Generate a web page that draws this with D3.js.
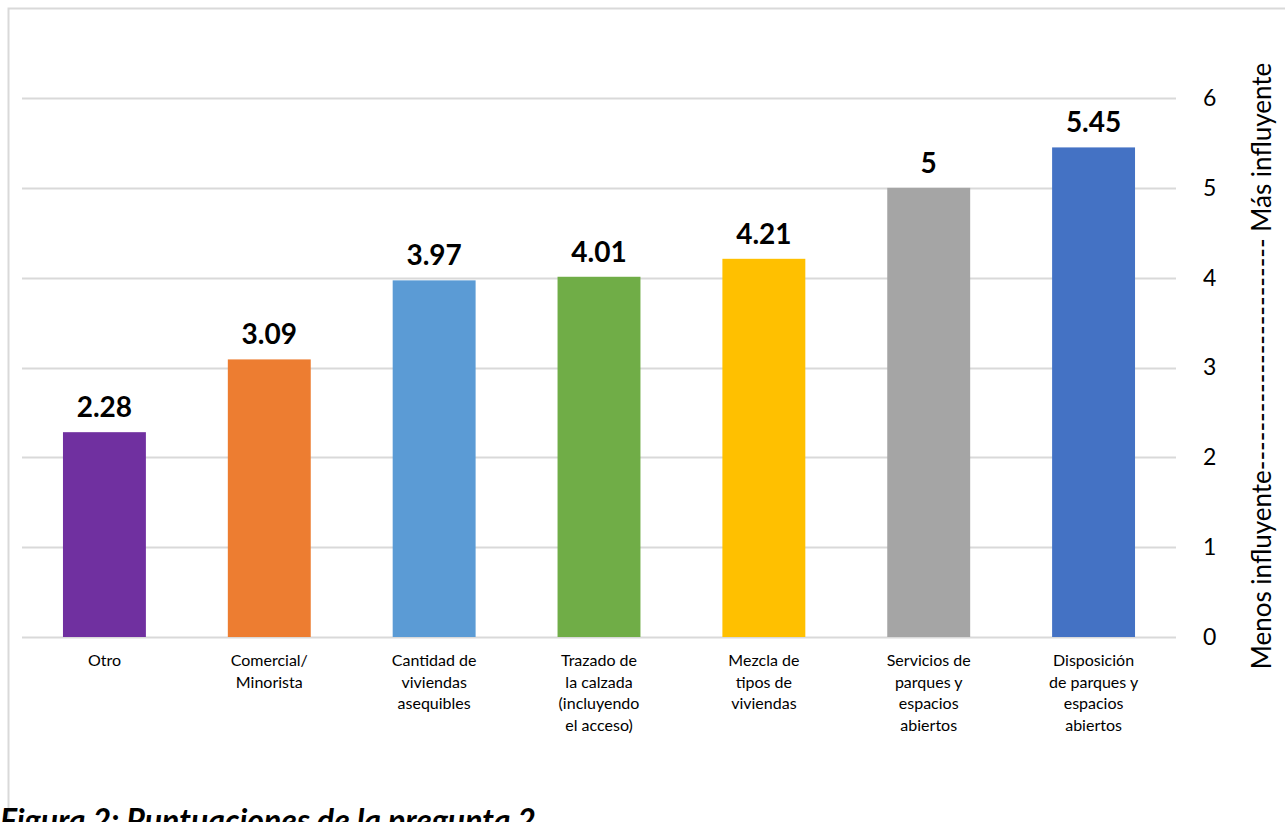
<!DOCTYPE html>
<html>
<head>
<meta charset="utf-8">
<script src="https://cdn.jsdelivr.net/npm/d3@7/dist/d3.min.js"></script>
<style>
  html, body { margin: 0; padding: 0; background: #fff; }
  svg { display: block; }
  text { font-family: Lato, "Open Sans", sans-serif; }
</style>
</head>
<body>
<svg id="chart" width="1285" height="822"></svg>
<script>
// Survey scores per influencing factor (question 2)
const categories = [
  ["Otro"],
  ["Comercial/", "Minorista"],
  ["Cantidad de", "viviendas", "asequibles"],
  ["Trazado de", "la calzada", "(incluyendo", "el acceso)"],
  ["Mezcla de", "tipos de", "viviendas"],
  ["Servicios de", "parques y", "espacios", "abiertos"],
  ["Disposición", "de parques y", "espacios", "abiertos"]
];
const scores = [2.28, 3.09, 3.97, 4.01, 4.21, 5, 5.45];
const barColors = ["#7030a0", "#ed7d31", "#5b9bd5", "#70ad47", "#ffc000", "#a5a5a5", "#4472c4"];
const yTicks = [0, 1, 2, 3, 4, 5, 6];
const axisTitle = "Menos influyente------------------------ Más influyente";
const caption = "Figura 2: Puntuaciones de la pregunta 2";

const svg = d3.select("#chart");

// chart frame (top and left edges visible)
svg.append("path")
  .attr("d", "M8.5,830 V8.5 H1290")
  .attr("fill", "none")
  .attr("stroke", "#d9d9d9")
  .attr("stroke-width", 2);

const plot = { left: 22, right: 1176, top: 98, bottom: 637 };

const x = d3.scaleBand()
  .domain(d3.range(categories.length))
  .range([plot.left, plot.right])
  .paddingInner(0.497)
  .paddingOuter(0.2485);

const y = d3.scaleLinear().domain([0, 6]).range([plot.bottom, plot.top]);

// gridlines
svg.append("g")
  .selectAll("line")
  .data(yTicks)
  .join("line")
  .attr("x1", plot.left)
  .attr("x2", plot.right)
  .attr("y1", d => Math.round(y(d)) + 0.5)
  .attr("y2", d => Math.round(y(d)) + 0.5)
  .attr("stroke", "#d9d9d9")
  .attr("stroke-width", 2);

// right value axis
const yAxis = d3.axisRight(y).tickValues(yTicks).tickSize(0).tickPadding(0).tickFormat(d3.format("d"));
const gy = svg.append("g")
  .attr("transform", `translate(${plot.right + 27},0)`)
  .call(yAxis);
gy.select(".domain").remove();
gy.selectAll("text")
  .attr("font-size", 23)
  .attr("fill", "#000")
  .attr("font-family", "Lato, sans-serif");

// bars
svg.append("g")
  .selectAll("rect")
  .data(scores)
  .join("rect")
  .attr("x", (d, i) => x(i))
  .attr("width", x.bandwidth())
  .attr("y", d => y(d))
  .attr("height", d => y(0) - y(d))
  .attr("fill", (d, i) => barColors[i]);

// value labels
svg.append("g")
  .selectAll("text")
  .data(scores)
  .join("text")
  .attr("x", (d, i) => x(i) + x.bandwidth() / 2)
  .attr("y", d => y(d) - 15)
  .attr("text-anchor", "middle")
  .attr("font-size", 28)
  .attr("font-weight", 700)
  .attr("fill", "#000")
  .text(d => d3.format("")(d));

// category labels
const cat = svg.append("g")
  .selectAll("text")
  .data(categories)
  .join("text")
  .attr("text-anchor", "middle")
  .attr("font-size", 16)
  .attr("fill", "#000")
  .attr("transform", (d, i) => `translate(${x(i) + x.bandwidth() / 2},${plot.bottom + 29})`);
cat.selectAll("tspan")
  .data(d => d)
  .join("tspan")
  .attr("x", 0)
  .attr("dy", (d, j) => j === 0 ? 0 : 21.7)
  .text(d => d);

// axis title
svg.append("text")
  .attr("transform", `translate(1271,366) rotate(-90)`)
  .attr("text-anchor", "middle")
  .attr("font-size", 26)
  .attr("fill", "#000")
  .text(axisTitle);

// figure caption
svg.append("text")
  .attr("x", 0)
  .attr("y", 832)
  .attr("font-size", 32)
  .attr("font-weight", 700)
  .attr("font-style", "italic")
  .attr("fill", "#000")
  .text(caption);
</script>
</body>
</html>
